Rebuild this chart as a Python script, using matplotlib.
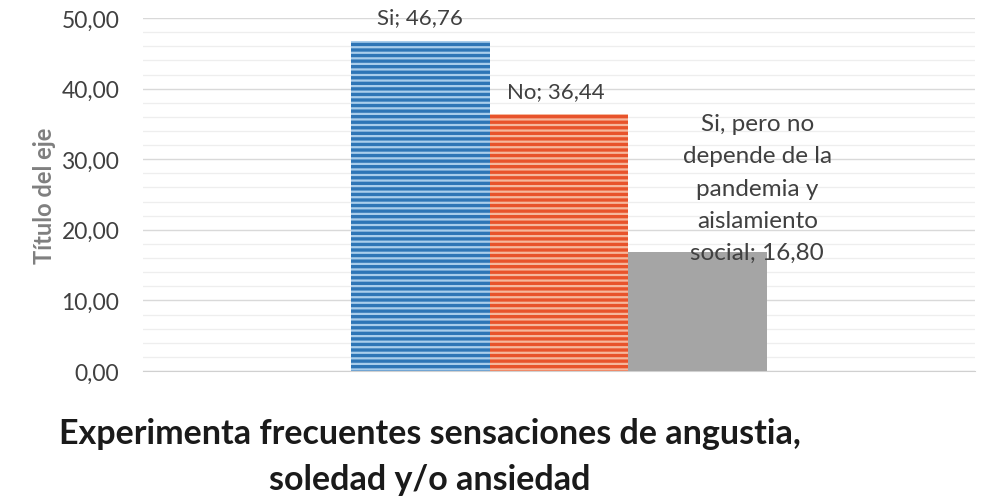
import matplotlib
matplotlib.use("Agg")
import matplotlib.pyplot as plt
from matplotlib.ticker import MultipleLocator, FuncFormatter

plt.rcParams['font.family'] = ['Lato', 'DejaVu Sans']
plt.rcParams['hatch.linewidth'] = 1.6

categories = ["Si", "No", "Si, pero no\ndepende de la\npandemia y\naislamiento\nsocial"]
values = [46.76, 36.44, 16.80]
base_colors = ["#2E75B6", "#E8532B", "#A5A5A5"]
stripe_colors = ["#A9CDEB", "#F6B79C", None]
y_ticks = [0, 10, 20, 30, 40, 50]

fig = plt.figure(figsize=(10, 5.02), dpi=100)
ax = fig.add_axes([0.143, 0.259, 0.832, 0.703])

xs = [-1, 0, 1]
ax.bar(xs, values, width=1.0, color=base_colors, zorder=3, linewidth=0)
for x, v, sc in zip(xs, values, stripe_colors):
    if sc:
        ax.bar([x], [v], width=1.0, facecolor="none", edgecolor=sc, hatch="---",
               linewidth=0, zorder=4)

ax.set_xlim(-3, 3)
ax.set_ylim(0, 50)
ax.yaxis.set_minor_locator(MultipleLocator(2))
ax.set_yticks(y_ticks)
ax.yaxis.set_major_formatter(FuncFormatter(lambda v, p: f"{v:.2f}".replace(".", ",")))
ax.grid(axis='y', which='major', color="#D9D9D9", linewidth=1.0, zorder=0)
ax.grid(axis='y', which='minor', color="#EEEEEE", linewidth=0.9, zorder=0)
ax.set_xticks([])
for s in ["top", "right", "left"]:
    ax.spines[s].set_visible(False)
ax.spines["bottom"].set_color("#D0D0D0")
ax.tick_params(axis='y', which='both', length=0, labelsize=16.5, labelcolor="#404040", pad=17)

ax.set_ylabel("Título del eje", fontsize=17, color="#7F7F7F", fontweight="bold", labelpad=4)

ax.text(xs[0], values[0] + 2.0, f"{categories[0]}; {values[0]:.2f}".replace(".", ","),
        ha="center", va="bottom", fontsize=16, color="#404040", clip_on=False)
ax.text(xs[1] - 0.02, values[1] + 1.8, f"{categories[1]}; {values[1]:.2f}".replace(".", ","),
        ha="center", va="bottom", fontsize=16, color="#404040")
ax.text(xs[2] + 0.43, values[2] - 1.5, f"{categories[2]}; {values[2]:.2f}".replace(".", ","),
        ha="center", va="bottom", fontsize=17.5, color="#404040", linespacing=1.66)

fig.text(0.43, 0.089, "Experimenta frecuentes sensaciones de angustia,\nsoledad y/o ansiedad",
         ha="center", va="center", fontsize=24.5, fontweight="bold", color="#1a1a1a",
         linespacing=1.55)

fig.savefig("out.png", dpi=100, facecolor="white")
